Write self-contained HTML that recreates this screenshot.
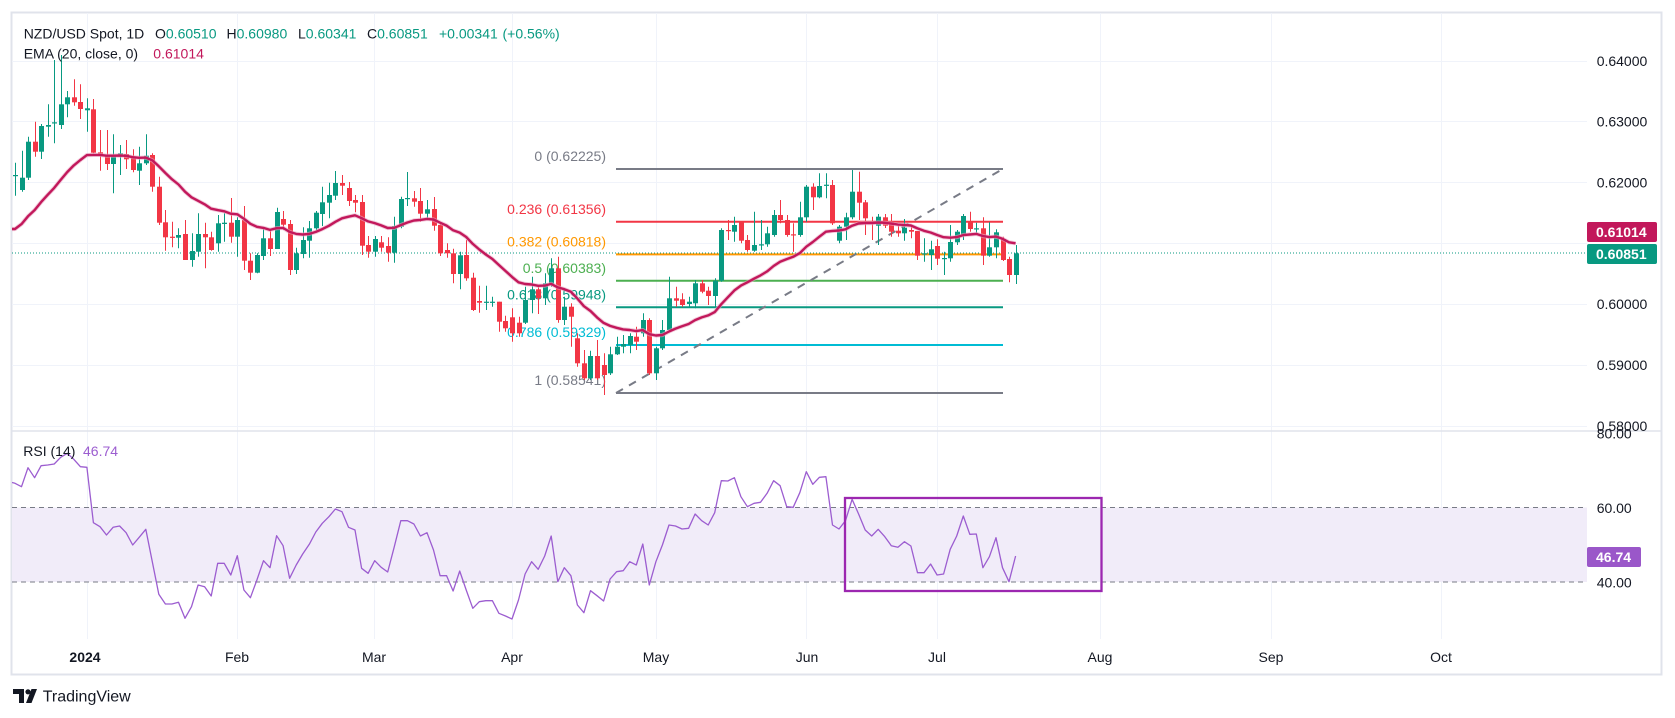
<!DOCTYPE html>
<html><head><meta charset="utf-8">
<style>
html,body{margin:0;padding:0;background:#fff;}
body{width:1675px;height:718px;overflow:hidden;position:relative;font-family:"Liberation Sans",sans-serif;}
svg{position:absolute;left:0;top:0;}
text{font-family:"Liberation Sans",sans-serif;}
</style></head><body>
<svg id="c" width="1675" height="718" viewBox="0 0 1675 718" xmlns="http://www.w3.org/2000/svg">
<defs>
<clipPath id="pp"><rect x="12" y="13" width="1575" height="417"/></clipPath>
<clipPath id="rp"><rect x="12" y="432" width="1575" height="206"/></clipPath>
</defs>
<rect x="0" y="0" width="1675" height="718" fill="#fff"/>
<rect x="11.5" y="12.5" width="1650" height="662" fill="#fff" stroke="#e0e3eb" stroke-width="2"/>
<g stroke="#f0f3fa" stroke-width="1">
<line x1="12" x2="1587" y1="61.5" y2="61.5"/>
<line x1="12" x2="1587" y1="121.5" y2="121.5"/>
<line x1="12" x2="1587" y1="182.5" y2="182.5"/>
<line x1="12" x2="1587" y1="243.5" y2="243.5"/>
<line x1="12" x2="1587" y1="304.5" y2="304.5"/>
<line x1="12" x2="1587" y1="365.5" y2="365.5"/>
<line x1="12" x2="1587" y1="426.5" y2="426.5"/>
<line x1="87.5" x2="87.5" y1="13" y2="639"/>
<line x1="237.5" x2="237.5" y1="13" y2="639"/>
<line x1="374.5" x2="374.5" y1="13" y2="639"/>
<line x1="512.5" x2="512.5" y1="13" y2="639"/>
<line x1="656.5" x2="656.5" y1="13" y2="639"/>
<line x1="806.5" x2="806.5" y1="13" y2="639"/>
<line x1="937.5" x2="937.5" y1="13" y2="639"/>
<line x1="1100.5" x2="1100.5" y1="13" y2="639"/>
<line x1="1271.5" x2="1271.5" y1="13" y2="639"/>
<line x1="1441.5" x2="1441.5" y1="13" y2="639"/>
</g>
<line x1="12" x2="1661" y1="431" y2="431" stroke="#e0e3eb" stroke-width="1.5"/>

<!-- RSI band -->
<rect x="12" y="507.5" width="1575" height="74.5" fill="#f1ecf9"/>
<line x1="12" x2="1587" y1="507.5" y2="507.5" stroke="#787b86" stroke-width="1" stroke-dasharray="5,4"/>
<line x1="12" x2="1587" y1="582" y2="582" stroke="#787b86" stroke-width="1" stroke-dasharray="5,4"/>

<!-- Fib -->
<g stroke-width="2">
<line x1="616" x2="1003" y1="169" y2="169" stroke="#787b86"/>
<line x1="616" x2="1003" y1="221.7" y2="221.7" stroke="#f23645"/>
<line x1="616" x2="1003" y1="254.4" y2="254.4" stroke="#ff9800"/>
<line x1="616" x2="1003" y1="280.8" y2="280.8" stroke="#4caf50"/>
<line x1="616" x2="1003" y1="307.3" y2="307.3" stroke="#089981"/>
<line x1="616" x2="1003" y1="345" y2="345" stroke="#00bcd4"/>
<line x1="616" x2="1003" y1="393" y2="393" stroke="#787b86"/>
<line x1="616" x2="1001" y1="393" y2="170" stroke="#787b86" stroke-dasharray="8,7"/>
</g>
<g font-size="14" text-anchor="end">
<text x="606" y="161" fill="#787b86">0 (0.62225)</text>
<text x="606" y="214" fill="#f23645">0.236 (0.61356)</text>
<text x="606" y="246.5" fill="#ff9800">0.382 (0.60818)</text>
<text x="606" y="273" fill="#4caf50">0.5 (0.60383)</text>
<text x="606" y="299.5" fill="#089981">0.618 (0.59948)</text>
<text x="606" y="337" fill="#00bcd4">0.786 (0.59329)</text>
<text x="606" y="385" fill="#787b86">1 (0.58541)</text>
</g>

<line x1="12" x2="1587" y1="253" y2="253" stroke="#089981" stroke-width="1" stroke-dasharray="1,2"/>

<g id="candles" clip-path="url(#pp)"></g>
<g id="ema" clip-path="url(#pp)"></g>
<g id="rsi" clip-path="url(#rp)"></g>

<rect x="845" y="498" width="256.5" height="93" fill="none" stroke="#9c27b0" stroke-width="2.3"/>

<!-- header -->
<g font-size="14">
<text x="23.7" y="38.3" fill="#131722">NZD/USD Spot, 1D</text>
<text x="155" y="38.3" fill="#131722">O<tspan fill="#089981">0.60510</tspan></text>
<text x="226.5" y="38.3" fill="#131722">H<tspan fill="#089981">0.60980</tspan></text>
<text x="298" y="38.3" fill="#131722">L<tspan fill="#089981">0.60341</tspan></text>
<text x="367" y="38.3" fill="#131722">C<tspan fill="#089981">0.60851</tspan></text>
<text x="439" y="38.3" fill="#089981">+0.00341</text>
<text x="502.5" y="38.3" fill="#089981">(+0.56%)</text>
<text x="23.7" y="58.3" fill="#131722">EMA (20, close, 0)</text>
<text x="153.3" y="58.3" fill="#c2185b">0.61014</text>
<text x="23.3" y="456" fill="#131722">RSI (14)</text>
<text x="83" y="456" fill="#9c5dd0">46.74</text>
</g>

<!-- price axis -->
<g font-size="14" fill="#131722">
<text x="1596.7" y="66">0.64000</text>
<text x="1596.7" y="126.7">0.63000</text>
<text x="1596.7" y="187.5">0.62000</text>
<text x="1596.7" y="309">0.60000</text>
<text x="1596.7" y="370">0.59000</text>
<text x="1596.7" y="431">0.58000</text>
<text x="1596.7" y="438.5">80.00</text>
<text x="1596.7" y="512.8">60.00</text>
<text x="1596.7" y="587.6">40.00</text>
</g>
<rect x="1587" y="222" width="70" height="20" rx="2" fill="#c2185b"/>
<text x="1596" y="237" font-size="14" font-weight="bold" fill="#fff">0.61014</text>
<rect x="1587" y="244" width="70" height="20" rx="2" fill="#089981"/>
<text x="1596" y="259" font-size="14" font-weight="bold" fill="#fff">0.60851</text>
<rect x="1587" y="547" width="54" height="20" rx="2" fill="#9a57c9"/>
<text x="1596" y="562" font-size="14" font-weight="bold" fill="#fff">46.74</text>

<!-- time axis -->
<g font-size="14" fill="#131722" text-anchor="middle">
<text x="85" y="662" font-weight="bold">2024</text>
<text x="237" y="662">Feb</text>
<text x="374" y="662">Mar</text>
<text x="512" y="662">Apr</text>
<text x="656" y="662">May</text>
<text x="807" y="662">Jun</text>
<text x="937" y="662">Jul</text>
<text x="1100" y="662">Aug</text>
<text x="1271" y="662">Sep</text>
<text x="1441" y="662">Oct</text>
</g>

<!-- logo -->
<g fill="#131722">
<path d="M13 689 h11 v14 h-5 v-9 h-6 z"/>
<circle cx="28" cy="691.8" r="2.6"/>
<path d="M31.5 689 h5.5 l-5.5 14 h-5.5 z"/>
</g>
<text x="42.7" y="701.5" font-size="16" fill="#131722">TradingView</text>
</svg>
<script>
(function(){
var D=[
[175.5,175,162.7,195.7],[190,177.7,150.7,191.7],[177.7,141.7,136.7,180],[141.7,151.7,121.7,156.7],[151.7,126,124,159],
[126.7,125,104.3,136.7],[123.3,122.3,60,143.3],[125,104.3,55,129],[104.3,97.3,91,117.3],[97.3,102.3,79.3,105.7],
[102,109,84.3,119],[110.3,108.3,98.3,131.7],[109.3,152.7,99,153.3],[152.3,155,130,170.7],[155,164,130,170],
[164,155,134.3,193.3],[156,153.3,145,175],[154,159.3,140,169],[156.7,170,149.3,172.3],[170.7,163.3,146.7,185],
[163.3,155.7,134.3,165],[155,186.7,153.3,191.7],[186.7,222.7,176.7,225],[222.3,237.3,210,250.7],[236.7,237.7,221.7,247.3],
[237.7,235,228.3,248.3],[234,260,220,260],[260,251,233.3,266.7],[251.7,234,213.3,256.7],[234,237.3,222.7,268.3],
[237.3,250,231.7,250.7],[243.3,223.3,215,251.7],[224,222.7,213.3,241.7],[222.7,236.7,198,242.7],[236.7,220,217.3,256.7],
[220,260.7,206,270],[260.7,272.7,253.3,280],[272.7,255,253.3,273.3],[256,238.3,228.3,260],[238.3,249,230,256],
[249,212,207.7,249],[219,224.7,211,230],[224,270,220,275],[270,253.3,247.7,274],[254,240,227.3,258.3],
[240.7,228.3,221,257.7],[228.3,212.7,211,230],[214,202.3,186.7,226],[202.7,195,182.7,218.3],[195.7,183,171,200],
[183,185.7,175,195],[188,201,182,206],[200,202.7,195,212.3],[202,245.7,195,255],[245,251.7,236,257.7],
[251.7,239,236,256.7],[242.3,247.7,236,251.7],[246,252.7,237.3,261.7],[252.7,226,216.7,262.7],[226.7,199,196.7,228.3],
[198.7,198,172,206],[198.3,201.7,191,206.7],[201,213.7,188,221.7],[213.7,209.3,200,219],[209,225.7,197,230.7],
[225,253.3,224,256],[250,253.3,243.3,257.7],[253.3,274,248.7,283.3],[274,255.3,251.7,289.3],[255,278.3,240,280.7],
[277.7,310,272.7,311],[301,302.7,285.7,312.7],[302,301.7,285.7,310],[302,301.7,296.7,306.7],[301.7,321.7,301.7,331.7],
[321,328.3,315.7,331.7],[317.3,333.3,308.3,341.7],[322.7,333.3,316.7,336.7],[322.7,300,286.7,324],[300,289.3,276.7,313.3],
[289.3,298.3,286.7,314],[298.3,283.3,273.3,305],[285,268.3,258.3,286.7],[268.3,320,256.7,322.7],[320,306.7,296.7,325],
[306.7,316.7,303.3,346.7],[338.3,363.3,333.3,366.7],[363.3,378.3,350,380],[378.3,356,350.7,380],[356,378.3,340,380],
[365,375,353.3,395],[373.3,354.3,346.7,375],[354.3,346.7,336.7,355],[346.7,344,335,353.3],[345,336,333.3,353.3],
[336.7,341.7,326.7,350],[333.3,320,313.3,336.7],[320,373.3,318.3,375],[373.3,348.3,346.7,380],[348.3,330,320,350],
[330,298.3,276.7,331.7],[298.3,300.7,286.7,306.7],[299.3,305,293.3,306.7],[304,301.7,296.7,306.7],[303.3,283.3,280,308.3],
[283.3,291.7,280,293.3],[290.7,296,286.7,305],[296,280.7,278.3,306.7],[280.7,230,228.3,281.7],[230,230.9,220,240],
[231.7,225,216.7,241.7],[221.7,240.7,221.7,243.3],[240,250,235,251.7],[250.7,245,211.7,251.7],[245.3,244.3,220,250],
[244.3,233.3,226.7,246.7],[235,215,210,236.7],[215,220,200,223.3],[220,235,215,236.7],[234.3,235,223.3,251.7],
[235,217.3,201.7,236.7],[217.3,186.7,185,221.7],[186.7,197.3,183.3,210],[197.3,186,173.3,198.3],[185.3,184.7,173.3,198.3],
[185,223.3,180,225],[240.7,226.7,225,243.3],[226.7,217.3,212.7,240],[217.3,191.7,170,219.3],[191.7,202.7,171.7,220],
[202.3,218.3,200,235],[222,224,216.7,240],[225.7,216.7,214,245],[217.3,225.7,214,228],[222.3,231.7,214,236.7],
[230.7,233.3,225.7,236.7],[233.3,227.7,219,240.7],[230,231.7,225.7,238.3],[231,255.7,231,260],[253.7,253.3,238.3,261.7],
[255,249.3,240.7,270],[246,258.7,239.3,265],[258.3,258,251.7,275],[258.3,242,225,261.7],[242.3,231.7,230,245],
[235,216,214,240],[221,229,211.7,231.7],[228.7,228.3,222.7,235],[228.3,255.7,217.3,265],[255.7,247.3,222.3,256.7],
[247.3,232.3,229.3,258.3],[239,260,236.7,261],[259,275,256.7,282.3],[275,253.3,245,284]
];
var R=[483.3,486.7,467.7,477.7,465.7,465,464,457.3,453.3,459.3,466.7,467.3,522.7,526.7,535,527.3,526,532.7,545,537.3,529.3,561.7,594.3,604,604,602.3,618.3,606.7,585,586.7,596,563.3,563.3,575,555.7,590,597.7,580,560.7,567.7,535.7,545.7,578.3,565,554,544.3,532,523.3,516.7,509,511.7,527.3,530,568.3,573.3,560.7,567.3,572,546.7,520.7,520.7,524,536,532.7,550,575.7,575.7,591,571,590,608.3,601.7,600.7,600.7,613.3,616,619,600,574,561.7,569.3,556,536,581.7,567.7,575.7,605,612.7,590.7,595.7,601,579,571.7,570.7,561.7,565,544,585,561.7,545,525,526,529,528.3,514,520.7,525,512.7,480.7,481,477.7,496.7,506.7,503.3,502.3,493.3,480.7,485.7,506.7,507.3,492.7,471.7,484.3,477.3,476.7,525,529,520.7,499.3,514,530,536,529.3,536.7,545.7,547.3,541.7,546,572.7,572.7,564,575,574,549.3,536,516,534.3,534,567.7,556.7,537.7,567.7,581.7,556];
function X(i){return 86.9+6.54*(i-11);}
var s='';
for(var i=0;i<D.length;i++){
 var d=D[i],o=d[0],c=d[1],h=d[2],l=d[3];
 var col=(c<=o)?'#089981':'#f23645';
 var xr=Math.round(X(i));
 s+='<line x1="'+(xr+0.5)+'" x2="'+(xr+0.5)+'" y1="'+h+'" y2="'+l+'" stroke="'+col+'" stroke-width="1"/>';
 var t=Math.min(o,c),b=Math.max(o,c);
 s+='<rect x="'+(xr-2)+'" y="'+t+'" width="5" height="'+Math.max(b-t,1.2)+'" fill="'+col+'"/>';
}
document.getElementById('candles').innerHTML=s;
var a=2/21,e=229,p=[];
for(var i=0;i<D.length;i++){ if(i>0){e=e+a*(D[i][1]-e);} p.push(X(i).toFixed(1)+','+e.toFixed(1)); }
p.unshift('12,'+229);
document.getElementById('ema').innerHTML='<polyline points="'+p.join(' ')+'" fill="none" stroke="#e9a9c3" stroke-width="4.2" stroke-linejoin="round" opacity="0.6"/><polyline points="'+p.join(' ')+'" fill="none" stroke="#c2185b" stroke-width="2.4" stroke-linejoin="round"/>';
var q=[];
for(var i=0;i<R.length;i++){q.push(X(i).toFixed(1)+','+R[i]);}
q.unshift('12,482.5');
document.getElementById('rsi').innerHTML='<polyline points="'+q.join(' ')+'" fill="none" stroke="#9c5dd0" stroke-width="1.3" stroke-linejoin="round"/>';
})();
</script>
</body></html>
